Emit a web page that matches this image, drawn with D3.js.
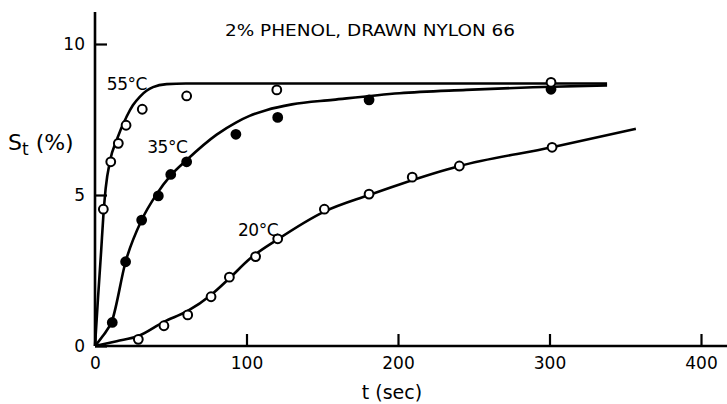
<!DOCTYPE html>
<html><head><meta charset="utf-8">
<script src="https://cdn.jsdelivr.net/npm/d3@7"></script>
<style>body{margin:0;background:#fff}svg{display:block}text{font-family:"DejaVu Sans",sans-serif;fill:#000}</style>
</head><body><svg id="c" width="727" height="404"></svg>
<script>
// observed data points [t (sec), St (%)]
const pts55 = [[5.5,4.53],[10.4,6.1],[15.4,6.71],[20.5,7.31],[31.2,7.84],[60.5,8.28],[120,8.48],[301,8.73]];
const pts35 = [[11.4,0.78],[20.2,2.79],[30.8,4.17],[41.8,4.97],[50,5.68],[60.5,6.1],[93,7.01],[120.6,7.57],[180.9,8.15],[301,8.5]];
const pts20 = [[28.6,0.22],[45.5,0.67],[61.2,1.03],[76.6,1.63],[88.7,2.28],[106,2.96],[120.6,3.55],[151.4,4.53],[180.9,5.03],[209.4,5.59],[240.5,5.96],[301.7,6.58]];
// fitted curves
const curve55 = [[0,0],[2,1.6],[4,3.1],[5.5,4.3],[7,5.2],[10,6.15],[14.3,6.82],[20.9,7.6],[25,7.97],[29.7,8.26],[34,8.45],[38.3,8.57],[47.3,8.67],[60,8.69],[338,8.69]];
const curve35 = [[0,0],[5,0.32],[11.4,0.86],[20.2,2.79],[30.8,4.17],[40.7,5.03],[50,5.65],[60.5,6.16],[80.3,7.0],[93,7.4],[102,7.62],[113,7.81],[130,8.0],[157,8.15],[201,8.37],[245,8.48],[289,8.57],[338,8.63]];
const curve20 = [[0,0],[14.3,0.16],[28.6,0.33],[45.5,0.8],[61.2,1.16],[76.6,1.69],[88.7,2.24],[102,2.88],[120.6,3.53],[151.4,4.45],[180.9,5.0],[201,5.35],[240.5,5.96],[301.7,6.58],[357,7.19]];
const xTicks = [0,100,200,300,400];
const yTicks = [0,5,10];
const labels = [{t:"55°C",x:7.8,y:8.48},{t:"35°C",x:34.5,y:6.39},{t:"20°C",x:94.4,y:3.64}];
const title = "2% PHENOL, DRAWN NYLON 66";

const svg = d3.select("#c");
const x = d3.scaleLinear().domain([0,400]).range([95,701]);
const y = d3.scaleLinear().domain([0,10]).range([346,44]);

// axes
const xa = svg.append("g").attr("transform","translate(0,346)")
  .call(d3.axisBottom(x).tickValues(xTicks).tickSizeInner(-12).tickSizeOuter(0).tickPadding(11));
const ya = svg.append("g").attr("transform","translate(95,0)")
  .call(d3.axisLeft(y).tickValues(yTicks).tickSizeInner(-12).tickSizeOuter(0).tickPadding(10));
[xa,ya].forEach(a=>{
  a.select(".domain").remove();
  a.selectAll(".tick line").attr("stroke","#000").attr("stroke-width",2.2);
  a.selectAll(".tick text").attr("font-size",17).attr("font-family","DejaVu Sans").attr("fill","#000");
});
svg.append("line").attr("x1",x(0)).attr("x2",x(417.5)).attr("y1",y(0)).attr("y2",y(0)).attr("stroke","#000").attr("stroke-width",2.6);
svg.append("line").attr("x1",x(0)).attr("x2",x(0)).attr("y1",y(0)).attr("y2",y(11.06)).attr("stroke","#000").attr("stroke-width",2.6);

// curves
const line = d3.line().x(d=>x(d[0])).y(d=>y(d[1])).curve(d3.curveMonotoneX);
[curve55,curve35,curve20].forEach(c=>{
  svg.append("path").attr("d",line(c)).attr("fill","none").attr("stroke","#000").attr("stroke-width",2.6);
});

// points
function dots(data, filled){
  svg.append("g").selectAll("circle").data(data).join("circle")
    .attr("cx",d=>x(d[0])).attr("cy",d=>y(d[1])).attr("r",4.4)
    .attr("fill",filled?"#000":"#fff").attr("stroke","#000").attr("stroke-width",2);
}
dots(pts35,true);
dots(pts55,false);
dots(pts20,false);

// curve labels
labels.forEach(l=>{
  svg.append("text").attr("x",x(l.x)).attr("y",y(l.y)).attr("font-size",17).attr("letter-spacing","-0.5").text(l.t);
});

// title
svg.append("text").attr("x",225).attr("y",36).attr("font-size",16).attr("textLength",290).attr("lengthAdjust","spacingAndGlyphs").text(title);

// y label St (%)
const yl = svg.append("text").attr("x",8).attr("y",150).attr("font-size",22);
yl.append("tspan").text("S");
yl.append("tspan").text("t").attr("font-size",17).attr("dy","5");
yl.append("tspan").text(" (%)").attr("dy","-5");

// x label
svg.append("text").attr("x",x(196)).attr("y",399).attr("text-anchor","middle").attr("font-size",19).text("t (sec)");
</script></body></html>
